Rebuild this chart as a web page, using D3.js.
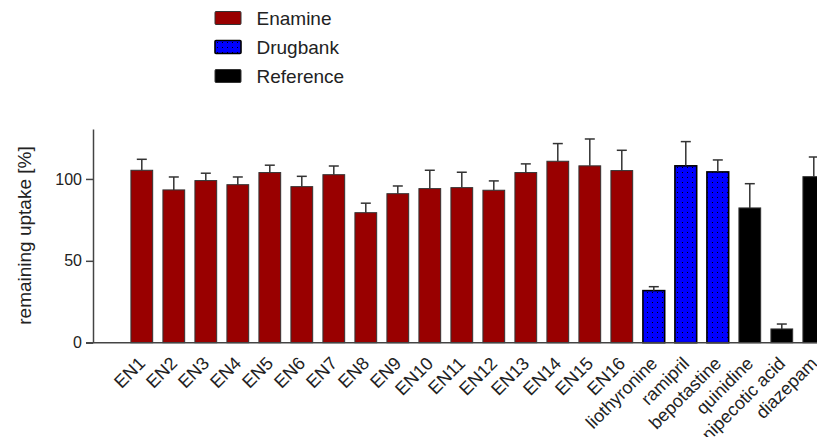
<!DOCTYPE html>
<html>
<head>
<meta charset="utf-8">
<script src="https://cdn.jsdelivr.net/npm/d3@7"></script>
<style>
  body { margin: 0; background: #fff; }
  svg { display: block; font-family: Arial, "Liberation Sans", sans-serif; }
</style>
</head>
<body>
<div id="chart"></div>
<script>
// data
const categories = ['EN1', 'EN2', 'EN3', 'EN4', 'EN5', 'EN6', 'EN7', 'EN8', 'EN9', 'EN10', 'EN11',
  'EN12', 'EN13', 'EN14', 'EN15', 'EN16', 'liothyronine', 'ramipril', 'bepotastine', 'quinidine',
  'nipecotic acid', 'diazepam'];
const groups = ['Enamine', 'Enamine', 'Enamine', 'Enamine', 'Enamine', 'Enamine', 'Enamine', 'Enamine',
  'Enamine', 'Enamine', 'Enamine', 'Enamine', 'Enamine', 'Enamine', 'Enamine', 'Enamine',
  'Drugbank', 'Drugbank', 'Drugbank', 'Reference', 'Reference', 'Reference'];
const means = [105.3, 93.3, 99.0, 96.5, 103.9, 95.3, 102.6, 79.4, 91.0, 94.1, 94.7,
  93.1, 103.9, 110.8, 108.0, 105.1, 31.8, 108.0, 104.3, 82.3, 8.4, 101.4];
const errTops = [112.0, 101.2, 103.5, 101.2, 108.4, 101.6, 107.9, 85.2, 95.7, 105.3, 104.1,
  98.8, 109.2, 121.6, 124.4, 117.5, 34.2, 122.8, 111.6, 97.1, 11.4, 113.4];
const legendNames = ['Enamine', 'Drugbank', 'Reference'];
const yTicks = [0, 50, 100];

const width = 817, height = 437;
const svg = d3.select('#chart').append('svg')
  .attr('width', width)
  .attr('height', height);

// dotted fill for the Drugbank bars
const defs = svg.append('defs');
const pat = defs.append('pattern')
  .attr('id', 'dots')
  .attr('patternUnits', 'userSpaceOnUse')
  .attr('width', 5)
  .attr('height', 5);
pat.append('rect').attr('width', 5).attr('height', 5).attr('fill', '#0000ff');
pat.append('rect').attr('x', 2).attr('y', 2).attr('width', 1).attr('height', 1).attr('fill', '#000');

const fills = { Enamine: '#990000', Drugbank: 'url(#dots)', Reference: '#000000' };

const axisX = 93;
const y = d3.scaleLinear().domain([0, 130.5]).range([342.7, 129]);
const x = d3.scaleBand()
  .domain(categories)
  .range([125.8, 125.8 + 32 * categories.length])
  .paddingInner(0.32)
  .paddingOuter(0.16);

// bars
const rows = categories.map((c, i) => ({ name: c, group: groups[i], mean: means[i], err: errTops[i] }));

svg.append('g')
  .selectAll('rect')
  .data(rows)
  .enter()
  .append('rect')
  .attr('x', d => x(d.name))
  .attr('y', d => y(d.mean))
  .attr('width', x.bandwidth())
  .attr('height', d => y(0) - y(d.mean))
  .attr('fill', d => fills[d.group])
  .attr('stroke', d => d.group === 'Drugbank' ? '#000' : '#333')
  .attr('stroke-width', d => d.group === 'Drugbank' ? 1.6 : 1);

// error bars (upper only)
const eb = svg.append('g')
  .attr('stroke', '#333')
  .attr('stroke-width', 1.5);
eb.selectAll('line.v')
  .data(rows)
  .enter()
  .append('line')
  .attr('class', 'v')
  .attr('x1', d => x(d.name) + x.bandwidth() / 2)
  .attr('x2', d => x(d.name) + x.bandwidth() / 2)
  .attr('y1', d => y(d.mean))
  .attr('y2', d => y(d.err));
eb.selectAll('line.c')
  .data(rows)
  .enter()
  .append('line')
  .attr('class', 'c')
  .attr('x1', d => x(d.name) + x.bandwidth() / 2 - 5)
  .attr('x2', d => x(d.name) + x.bandwidth() / 2 + 5)
  .attr('y1', d => y(d.err))
  .attr('y2', d => y(d.err));

// y axis
const yAxis = svg.append('g')
  .attr('transform', `translate(${axisX},0)`)
  .call(d3.axisLeft(y).tickValues(yTicks).tickSize(7).tickPadding(4).tickSizeOuter(0));
yAxis.select('.domain').attr('stroke', '#444').attr('stroke-width', 1.5);
yAxis.selectAll('.tick line').attr('stroke', '#444').attr('stroke-width', 1.5);
yAxis.selectAll('.tick text')
  .attr('font-size', 16)
  .attr('font-family', 'Arial, "Liberation Sans", sans-serif')
  .attr('fill', '#222');

// x axis line
svg.append('line')
  .attr('x1', axisX - 7)
  .attr('x2', width + 10)
  .attr('y1', y(0))
  .attr('y2', y(0))
  .attr('stroke', '#444')
  .attr('stroke-width', 1.5);

// x labels
svg.append('g')
  .selectAll('text')
  .data(categories)
  .enter()
  .append('text')
  .attr('transform', d => `translate(${x(d) + x.bandwidth() / 2 - 5},355) rotate(-45)`)
  .attr('text-anchor', 'end')
  .attr('dy', '0.75em')
  .attr('font-size', 18)
  .attr('fill', '#222')
  .text(d => d);

// y label
svg.append('text')
  .attr('transform', `translate(31,235.5) rotate(-90)`)
  .attr('text-anchor', 'middle')
  .attr('font-size', 19)
  .attr('fill', '#222')
  .text('remaining uptake [%]');

// legend
const leg = svg.append('g');
legendNames.forEach((n, i) => {
  const cy = 18 + i * 29;
  leg.append('rect')
    .attr('x', 215)
    .attr('y', cy - 6.5)
    .attr('width', 26)
    .attr('height', 13)
    .attr('rx', 1)
    .attr('fill', fills[n])
    .attr('stroke', n === 'Drugbank' ? '#000' : '#333')
    .attr('stroke-width', n === 'Drugbank' ? 1.6 : 1);
  leg.append('text')
    .attr('x', 256.5)
    .attr('y', cy)
    .attr('dy', '0.35em')
    .attr('font-size', 19)
    .attr('fill', '#222')
    .text(n);
});
</script>
</body>
</html>
